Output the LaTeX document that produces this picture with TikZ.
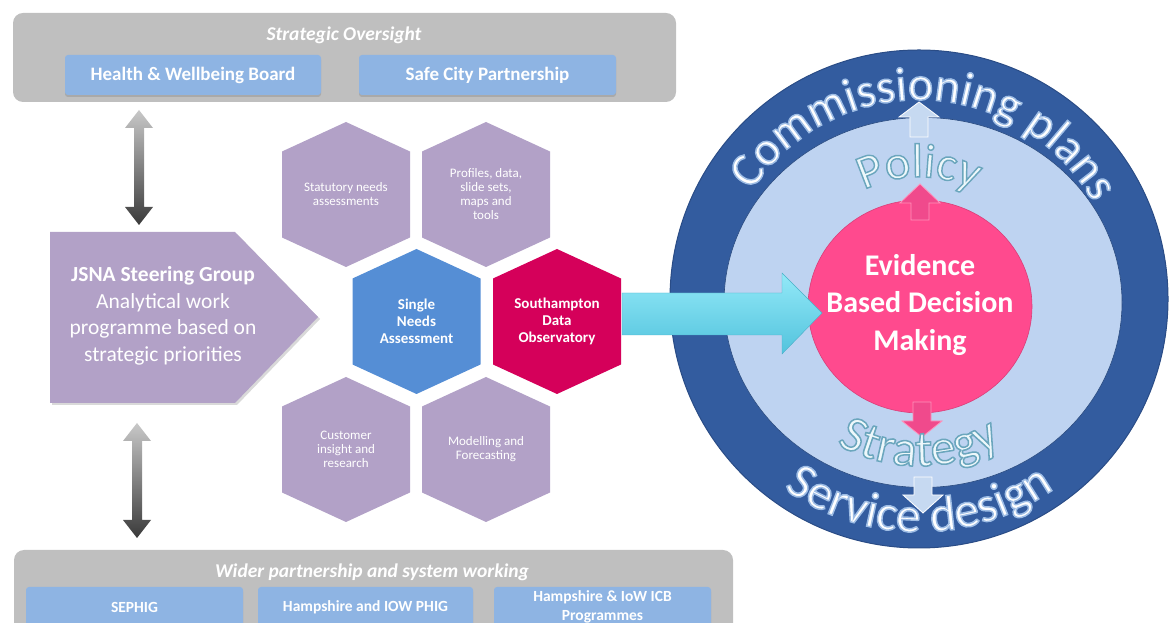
\documentclass[tikz,border=0pt]{standalone}
\usepackage{fontspec}
\setmainfont{Carlito}
\newfontfamily\arcout[FakeBold=3]{Carlito}
\usetikzlibrary{decorations.text,shadows,shapes.geometric}
\definecolor{boxgray}{HTML}{BFBFBF}
\definecolor{boxblue}{HTML}{8EB4E3}
\definecolor{lav}{HTML}{B2A1C7}
\definecolor{snablue}{HTML}{558ED5}
\definecolor{sdored}{HTML}{D5005A}
\definecolor{cyanlt}{HTML}{93E9F8}
\definecolor{cyandk}{HTML}{52C3DD}
\definecolor{ringdk}{HTML}{335C9F}
\definecolor{ringedge}{HTML}{2A4C86}
\definecolor{ringlt}{HTML}{BED3F1}
\definecolor{pinkc}{HTML}{FF4A8E}
\definecolor{arrowlt}{HTML}{C6D9F1}
\definecolor{arrowpk}{HTML}{F04A8C}
\definecolor{gradlt}{HTML}{C8C8C8}
\definecolor{graddk}{HTML}{3A3A3A}
\definecolor{softwhite}{HTML}{EEF8FB}

% stroke colours for outlined curved text (R G B in 0..1)
\newcommand\stroketeal{\special{pdf:code 0.42 0.65 0.74 RG}}
\newcommand\strokeblue{\special{pdf:code 0.62 0.74 0.90 RG}}

\newcommand\arcfontA{\fontsize{48}{48}\selectfont}
\newcommand\arcfontS{\fontsize{50}{50}\selectfont}
\newcommand\arcfontP{\fontsize{48}{48}\selectfont}
\newcommand\arcfontT{\fontsize{51}{51}\selectfont}

\tikzset{
  panel/.style={fill=boxgray, rounded corners=10pt, inner sep=0pt, draw=none},
  paneltitle/.style={text=white, font=\fontsize{19.5}{24}\selectfont\bfseries\itshape, inner sep=0pt},
  bluebox/.style={fill=boxblue, rounded corners=3pt, inner sep=0pt, text=white,
    font=\fontsize{19}{22}\selectfont\bfseries,
    drop shadow={shadow xshift=0pt, shadow yshift=-2pt, opacity=0.35}},
  blueboxsm/.style={bluebox, font=\fontsize{15.5}{19}\selectfont\bfseries, align=center},
  hextext/.style={text=white, align=center, inner sep=0pt, font=\fontsize{13}{14}\selectfont},
  hexbold/.style={text=white, align=center, inner sep=0pt, font=\fontsize{15}{17}\selectfont\bfseries},
  jsnatext/.style={text=white, align=center, inner sep=0pt, font=\fontsize{21.5}{26.5}\selectfont},
  lbarrow/.style={fill=arrowlt, draw=white, line width=0.8pt},
  pkarrow/.style={fill=arrowpk, draw=pinkc!60!white, line width=0.8pt},
}

\newcommand\myhex[6]{%
  \fill[#4] (#2,#3+72.5) -- (#2+64,#3+43) -- (#2+64,#3-43) -- (#2,#3-72.5) -- (#2-64,#3-43) -- (#2-64,#3+43) -- cycle;
  \node[#5] (#1) at (#2,#3) {#6};}

\newcommand\dblarrow[3]{%
  \path[top color=gradlt, bottom color=graddk] (#1,#2) -- (#1+14,#2-18) -- (#1+5,#2-18) -- (#1+5,#3+18) -- (#1+14,#3+18) -- (#1,#3) -- (#1-14,#3+18) -- (#1-5,#3+18) -- (#1-5,#2-18) -- (#1-14,#2-18) -- cycle;}

\newcommand\vblk[5]{%
  \path[#5] (#1,#2) -- (#1+20,#3) -- (#1+9,#3) -- (#1+9,#4) -- (#1-9,#4) -- (#1-9,#3) -- (#1-20,#3) -- cycle;}

\begin{document}
\begin{tikzpicture}[x=1pt,y=1pt]
\useasboundingbox (0,0) rectangle (1169,623);
\clip (0,0) rectangle (1169,623);

% ---------- top panel ----------
\node[panel, minimum width=663pt, minimum height=89pt] (oversight) at (344.5,565.5) {};
\node[paneltitle] (ovtitle) at (344,588) {Strategic Oversight};
\node[bluebox, minimum width=256pt, minimum height=40pt] (hwb) at (193,548) {Health \& Wellbeing Board};
\node[bluebox, minimum width=257pt, minimum height=40pt] (scp) at (487.5,548) {Safe City Partnership};

% ---------- bottom panel ----------
\node[panel, minimum width=719pt, minimum height=100pt] (wider) at (373.5,23) {};
\node[paneltitle] (wptitle) at (372,51) {Wider partnership and system working};
\node[blueboxsm, minimum width=217pt, minimum height=40pt] (sephig) at (134.5,16) {SEPHIG};
\node[blueboxsm, minimum width=215pt, minimum height=40pt] (phig) at (365.5,16) {Hampshire and IOW PHIG};
\node[blueboxsm, minimum width=217pt, minimum height=40pt] (icb) at (602.5,16) {Hampshire \& IoW ICB\\Programmes};

% ---------- vertical double arrows ----------
\dblarrow{139}{513}{398}
\dblarrow{137}{200}{85}

% ---------- JSNA pentagon ----------
\path[fill=lav, drop shadow={shadow xshift=2pt, shadow yshift=-2pt, opacity=0.3}]
  (50,391) -- (235,391) -- (318,306) -- (235,220) -- (50,220) -- cycle;
\node[jsnatext] (jsna) at (163,307) {\textbf{JSNA Steering Group}\\Analytical work\\programme based on\\strategic priorities};

% ---------- hexagons ----------
\myhex{stat}{346}{428.5}{lav}{hextext}{Statutory needs\\assessments}
\myhex{prof}{486}{428.5}{lav}{hextext}{Profiles, data,\\slide sets,\\maps and\\tools}
\myhex{sna}{416.5}{301.5}{snablue}{hexbold}{Single\\Needs\\Assessment}
\myhex{sdo}{557}{301.5}{sdored}{hexbold}{Southampton\\Data\\Observatory}
\myhex{cust}{346}{173.5}{lav}{hextext}{Customer\\insight and\\research}
\myhex{model}{486}{173.5}{lav}{hextext}{Modelling and\\Forecasting}

% ---------- circles ----------
\coordinate (C) at (919,324);
\node[circle, fill=ringdk, draw=ringedge, line width=1pt, minimum size=498pt, inner sep=0pt] (outerring) at (C) {};
\node[ellipse, fill=ringlt, draw=ringdk!80!black, line width=0.6pt, minimum width=398pt, minimum height=370pt, inner sep=0pt] (innerring) at (923,320.5) {};
\node[ellipse, fill=pinkc, draw=pinkc!85!black, line width=0.6pt, minimum width=224pt, minimum height=213pt, inner sep=0pt] (ebdmshape) at (920,316.5) {};

% ---------- cyan block arrow ----------
\path[top color=cyanlt, bottom color=cyandk, draw=cyandk!90!black, line width=0.4pt]
  (622,330) -- (782,330) -- (782,350) -- (822,310) -- (782,269) -- (782,288) -- (622,288) -- cycle;

\node[text=white, align=center, inner sep=0pt, font=\fontsize{30}{37.5}\selectfont\bfseries] (ebdm) at (920,318) {Evidence\\Based Decision\\Making};

% ---------- small arrows ----------
\vblk{919}{521}{506}{486}{lbarrow}
\vblk{920}{439}{420}{403}{pkarrow}
\vblk{922}{186}{202}{221}{pkarrow}
\vblk{923}{110}{128}{146}{lbarrow}

% ---------- curved texts (one copy each, filled and stroked) ----------
\path[decorate, decoration={text along path, text align=center, text={|\arcout\arcfontA\color{white}\strokeblue|Commissioning plans}}]
  ([shift={(160:199)}]C) arc[start angle=160, end angle=16, radius=199];

\path[decorate, decoration={text along path, text align=center, text={|\arcout\arcfontS\color{white}\strokeblue|Service design}}]
  ([shift={(200:233)}]C) arc[start angle=200, end angle=340, radius=233];

\path[decorate, decoration={text along path, text align=center, text={|\arcout\arcfontP\color{softwhite}\stroketeal|Policy}}]
  ([shift={(160:122)}]C) arc[start angle=160, end angle=20, radius=122];

\path[decorate, decoration={text along path, text align=center, text={|\arcout\arcfontT\color{softwhite}\stroketeal|Strategy}}]
  ([shift={(205:167)}]C) arc[start angle=205, end angle=335, radius=167];

\end{tikzpicture}
\end{document}
